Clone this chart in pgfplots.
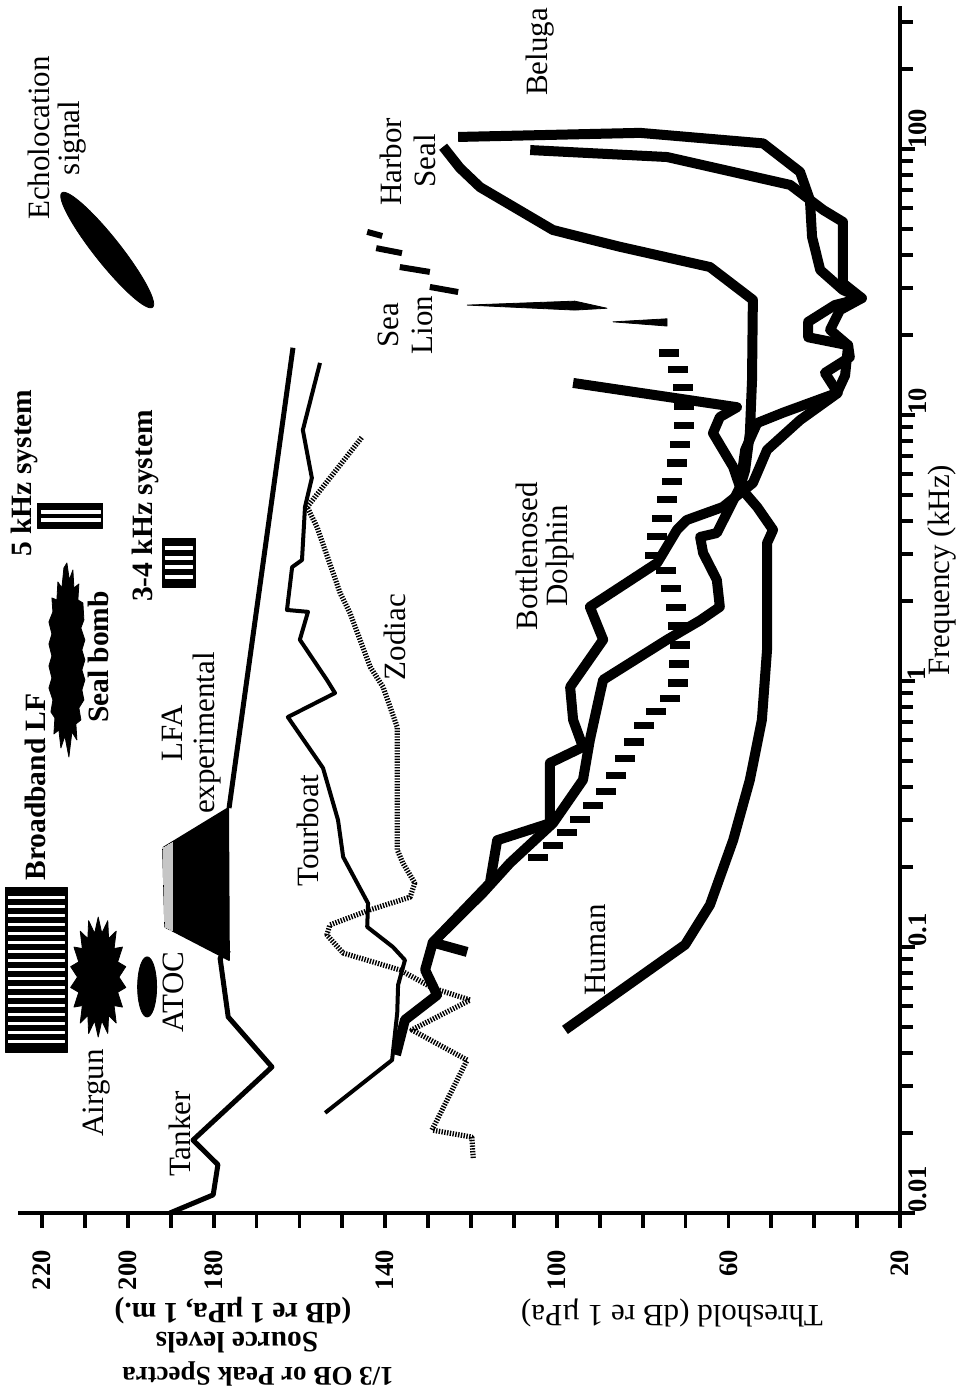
\documentclass[border=0pt]{standalone}
\usepackage{fontspec}
\setmainfont{Liberation Serif}
\usepackage{pgfplots}
\pgfplotsset{compat=1.18}
\usetikzlibrary{decorations.markings}

\newcommand\lbl{\fontsize{15.5bp}{17bp}\selectfont}
\newcommand\blbl{\fontsize{14.75bp}{17bp}\selectfont\bfseries}
\newcommand\tkl{\fontsize{13.3bp}{15bp}\selectfont\bfseries}

% ---- symbols for the sound sources ----
\pgfdeclareplotmark{airgun}{%
  \fill (0bp,30bp) \foreach \i in {1,...,35}{
    -- ({(0.87+0.13*cos(180*\i))*14bp*cos(90+10*\i)},{(0.87+0.13*cos(180*\i))*30bp*sin(90+10*\i)})} -- cycle;}
\pgfdeclareplotmark{atoc}{%
  \fill (4.75bp,0bp) \foreach \t in {5,10,...,355}{ -- ({4.75bp*cos(\t)},{15bp*sin(\t)})} -- cycle;}
\pgfdeclareplotmark{echo}{%
  \fill (22.67bp,-28.6bp) \foreach \t in {5,10,...,355}{
    -- ({22.67bp*cos(\t)+5.10bp*sin(\t)},{-28.6bp*cos(\t)+4.04bp*sin(\t)})} -- cycle;}
\pgfdeclareplotmark{sealbomb}{%
  \fill[x=1bp,y=1bp] (0,48.5) -- (1.2,40) -- (3,45) -- (3.5,36) -- (6,38) -- (5.5,30) -- (8,28.5)
    -- (8.5,20) -- (7,16) -- (9,10) -- (7.5,5) -- (9,0) -- (7.5,-5) -- (9,-10) -- (7.5,-15)
    -- (8.5,-20) -- (6,-24) -- (7,-30) -- (4.5,-32) -- (5,-40) -- (2.5,-36) -- (1,-48.5)
    -- (-1,-38) -- (-3,-44) -- (-4,-35) -- (-6.5,-37) -- (-6,-29) -- (-8,-26) -- (-7,-20)
    -- (-9,-14) -- (-7.5,-9) -- (-9,-3) -- (-7.5,2) -- (-9,8) -- (-7.5,13) -- (-9,19)
    -- (-7,24) -- (-7.5,31) -- (-5,30) -- (-4.5,39) -- (-2.5,36) -- (-1.5,46) -- cycle;}
\pgfdeclareplotmark{bblf}{%
  \fill[x=1bp,y=1bp] (-15.5,-41.25) rectangle (15.5,41.25);
  \foreach \k in {-8,...,8}{\fill[white,x=1bp,y=1bp] (-14,{\k*4.5-0.65}) rectangle (14,{\k*4.5+0.65});}}
\pgfdeclareplotmark{fivek}{%
  \fill[x=1bp,y=1bp] (-16.25,-6.25) rectangle (16.25,6.25);
  \fill[white,x=1bp,y=1bp] (-14.5,1.1) rectangle (15,2.7);
  \fill[white,x=1bp,y=1bp] (-14.5,-3.0) rectangle (15,-1.4);}
\pgfdeclareplotmark{threefourk}{%
  \fill[x=1bp,y=1bp] (-8.25,-12.25) rectangle (8.25,12.25);
  \foreach \k in {-1.5,-0.5,0.5,1.5}{\fill[white,x=1bp,y=1bp] (-6.75,{\k*4.75-0.75}) rectangle (6.75,{\k*4.75+0.75});}}

% hatched line made of short level bars
\tikzset{hbars/.style={draw=none, postaction={decorate},
  decoration={markings, mark=between positions 0.02 and 1 step 9.5bp with
    {\pgftransformresetnontranslations\fill[black] (-5bp,-1.8bp) rectangle (5bp,1.8bp);}}}}

\begin{document}
\begin{tikzpicture}[line join=round, line cap=round]
\begin{axis}[
  scale only axis, width=441bp, height=603.5bp,
  x dir=reverse, xmin=20, xmax=225.6,
  ymode=log, ymin=0.01, ymax=345,
  clip=false,
  axis x line*=bottom, axis y line*=right,
  axis line style={line width=2.4bp},
  tick align=outside,
  major tick length=7.5bp, minor tick length=6.5bp,
  tick style={line width=1.9bp, black},
  xtick={20,30,...,220},
  xticklabels={20,,,,60,,,,100,,,,140,,,,180,,200,,220},
  xticklabel style={rotate=90, anchor=east, font=\tkl, inner sep=0pt},
  xticklabel shift=11bp,
  ytick={0.01,0.1,1,10,100},
  yticklabels={0.01,0.1,1,10,100},
  minor ytick={0.02,0.03,0.04,0.05,0.06,0.07,0.08,0.09,0.2,0.3,0.4,0.5,0.6,0.7,0.8,0.9,2,3,4,5,6,7,8,9,20,30,40,50,60,70,80,90,200,300},
  yticklabel style={rotate=90, anchor=north west, font=\tkl, inner sep=0pt},
  yticklabel shift=-3.5bp,
]
\coordinate (SW) at (rel axis cs:0,0);

% ---- source spectra ----
% Tanker
\addplot[black, line width=2.5bp] coordinates {
 (190.2,0.01) (180.1,0.0117) (179.0,0.0152) (184.8,0.0188) (166.4,0.0354)
 (176.6,0.0546) (178.5,0.091) (176.4,0.0974)};
% LFA experimental
\addplot[black, fill=black, line width=0.8bp] coordinates {
 (191.8,0.236) (176.6,0.333) (176.4,0.0893) (191.3,0.119)} -- cycle;
\addplot[gray!45, fill=gray!45, line width=0pt] coordinates {
 (191.8,0.236) (189.7,0.247) (189.7,0.1153) (191.3,0.119)} -- cycle;
\addplot[black, line width=2.5bp] coordinates {(176.4,0.333) (161.5,17.9)};
% Tourboat
\addplot[black, line width=2bp] coordinates {
 (155.2,15.7) (159.2,8.78) (157.1,5.80) (158.7,4.51) (159.4,2.85) (161.7,2.68)
 (162.9,1.85) (158.0,1.82) (159.9,1.43) (153.6,1.01) (151.7,0.901) (162.7,0.732)
 (154.5,0.471) (151.0,0.300) (149.8,0.218) (144.0,0.146) (144.2,0.119) (138.2,0.100)
 (135.4,0.0893) (137.0,0.0720) (137.2,0.0565) (138.4,0.0376) (154.0,0.0238)};
% Zodiac
\addplot[black, line width=2.6bp, line cap=butt, dash pattern=on 0.7bp off 0.7bp] coordinates {
 (119.5,0.0161) (119.8,0.0193) (129.1,0.0205) (120.9,0.0376) (133.8,0.0488)
 (120.2,0.0632) (128.9,0.0701) (136.6,0.0820) (149.8,0.0949) (153.6,0.111)
 (152.9,0.121) (143.5,0.138) (134.2,0.154) (133.1,0.174) (135.9,0.207)
 (137.2,0.232) (137.2,0.671) (140.5,0.949) (143.5,1.13) (148.2,1.80)
 (150.5,2.14) (155.9,3.79) (158.2,4.51) (145.4,8.26)};

% ---- hearing thresholds ----
% Human
\addplot[black, line width=5bp] coordinates {
 (98.1,0.0488) (70.1,0.102) (64.3,0.144) (58.9,0.252) (55.0,0.425) (52.2,0.714)
 (51.0,1.31) (51.0,3.30) (49.6,3.70) (53.3,4.51) (57.3,5.36) (58.9,6.38)
 (63.6,8.55) (62.0,9.82) (58.0,10.7) (96.2,13.2)};
% Harbor seal
\addplot[black, line width=5bp] coordinates {
 (126.5,102) (122.6,84.9) (117.9,71.9) (100.9,49.6) (85.3,42.9) (64.3,36.0)
 (54.3,27.1) (54.5,13.5) (55.0,8.55) (56.1,6.21) (57.3,5.36) (62.7,3.60)
 (66.6,3.48) (65.9,3.03) (62.7,2.40) (62.0,1.90) (66.6,1.69) (74.3,1.43)
 (89.2,1.01) (89.9,0.901) (92.3,0.600) (93.9,0.425) (100.9,0.292) (110.9,0.207)
 (117.2,0.160) (128.9,0.104) (120.9,0.0958)};
% Beluga
\addplot[black, line width=5bp] coordinates {
 (123.0,111) (80.6,115) (51.9,105) (43.3,82.0) (41.0,64.3) (40.5,46.7) (38.6,35.1)
 (33.3,29.5) (28.9,27.5) (35.2,25.9) (41.4,22.4) (41.4,19.6) (32.1,18.3) (31.7,16.5)
 (37.5,14.4) (34.5,12.1) (43.3,9.57) (51.0,7.39) (54.3,5.55) (61.3,4.51) (69.7,4.03)
 (72.0,3.70) (76.6,2.78) (92.3,1.90) (89.2,1.43) (96.9,0.949) (96.2,0.714) (93.9,0.565)
 (101.6,0.492) (101.6,0.292) (113.9,0.252) (115.6,0.174) (128.9,0.104) (130.7,0.0820)
 (127.9,0.0660) (135.4,0.0532) (137.5,0.0393)};
% Bottlenosed dolphin
\addplot[black, line width=5bp] coordinates {
 (106.2,99.1) (74.3,93.3) (45.6,73.3) (37.9,59.0) (33.3,53.2) (33.3,31.3) (28.9,27.5)
 (34.0,24.8) (36.3,20.9) (32.1,18.3) (32.8,14.1) (34.7,12.1) (47.3,10.2) (53.3,9.33)
 (56.1,7.39) (57.3,5.36)};
% Sea lion
\addplot[hbars] coordinates {
 (75.2,18.7) (72.4,15.7) (70.6,13.3) (70.1,9.57) (72.0,6.60) (74.3,4.79) (76.6,3.48)
 (77.1,2.92) (74.3,2.55) (72.0,1.80) (71.3,1.31) (72.0,0.901) (76.6,0.778)
 (80.6,0.654) (87.6,0.400) (95.3,0.292) (103.9,0.218) (108.1,0.209)};
\addplot[black, fill=black, line width=0.4bp] coordinates {
 (120.9,25.9) (95.8,26.8) (88.3,25.2) (95.8,24.8)} -- cycle;
\addplot[black, fill=black, line width=0.4bp] coordinates {
 (86.9,22.4) (74.3,23.0) (74.3,21.6)} -- cycle;
\addplot[black, line width=3bp, line cap=butt] coordinates {(144.2,48.8) (140.7,47.1)};
\addplot[black, line width=3bp, line cap=butt] coordinates {(142.1,42.4) (136.1,40.6)};
\addplot[black, line width=3bp, line cap=butt] coordinates {(136.6,36.0) (129.6,34.5)};
\addplot[black, line width=3bp, line cap=butt] coordinates {(129.6,30.3) (123.0,29.0)};

% ---- impulsive and tonal sources ----
\addplot[black, only marks, mark=airgun] coordinates {(206.9,0.0771)};
\addplot[black, only marks, mark=atoc] coordinates {(195.5,0.0708)};
\addplot[black, only marks, mark=sealbomb] coordinates {(214.2,1.20)};
\addplot[black, only marks, mark=bblf] coordinates {(221.4,0.0823)};
\addplot[black, only marks, mark=fivek] coordinates {(213.4,4.19)};
\addplot[black, only marks, mark=threefourk] coordinates {(188.2,2.79)};
\addplot[black, only marks, mark=echo] coordinates {(204.8,41.7)};
\end{axis}

% ---- labels, positioned in picture units ----
\begin{scope}[shift={(SW)}]
\begin{scope}[x=0.5bp, y=-0.5bp, shift={(-18,-1213)}]
\node[rotate=90, font=\lbl] at (180,1134) {Tanker};
\node[rotate=90, font=\lbl] at (97,1093) {Airgun};
\node[rotate=90, font=\lbl] at (173,992) {ATOC};
\node[rotate=90, font=\blbl] at (35,787) {Broadband LF};
\node[rotate=90, font=\blbl] at (98,657) {Seal bomb};
\node[rotate=90, font=\blbl] at (24,473) {5 kHz system};
\node[rotate=90, font=\blbl] at (145,506) {3-4 kHz system};
\node[rotate=90, font=\lbl] at (172,733) {LFA};
\node[rotate=90, font=\lbl] at (207,733) {experimental};
\node[rotate=90, font=\lbl] at (308,831) {Tourboat};
\node[rotate=90, font=\lbl] at (395,637) {Zodiac};
\node[rotate=90, font=\lbl] at (527,556) {Bottlenosed};
\node[rotate=90, font=\lbl] at (560,556) {Dolphin};
\node[rotate=90, font=\lbl] at (595,950) {Human};
\node[rotate=90, font=\lbl] at (388,325) {Sea};
\node[rotate=90, font=\lbl] at (422,325) {Lion};
\node[rotate=90, font=\lbl] at (391,162) {Harbor};
\node[rotate=90, font=\lbl] at (425,161) {Seal};
\node[rotate=90, font=\lbl] at (540,52) {Beluga};
\node[rotate=90, font=\lbl] at (39,138) {Echolocation};
\node[rotate=90, font=\lbl] at (72,138) {signal};
\node[rotate=90, font=\lbl, anchor=north west, inner sep=0pt] at (928,676) {Frequency (kHz)};
\node[rotate=180, font=\blbl] at (233,1311) {(dB re 1 µPa, 1 m.)};
\node[rotate=180, font=\blbl] at (237,1343) {Source levels};
\node[rotate=180, font=\fontsize{13.5bp}{16bp}\selectfont\bfseries] at (258,1374) {1/3 OB or Peak Spectra};
\node[rotate=180, font=\lbl] at (672,1313) {Threshold (dB re 1 µPa)};
\pgfresetboundingbox
\path[use as bounding box] (0,0) rectangle (956,1394);
\end{scope}
\end{scope}
\end{tikzpicture}
\end{document}
